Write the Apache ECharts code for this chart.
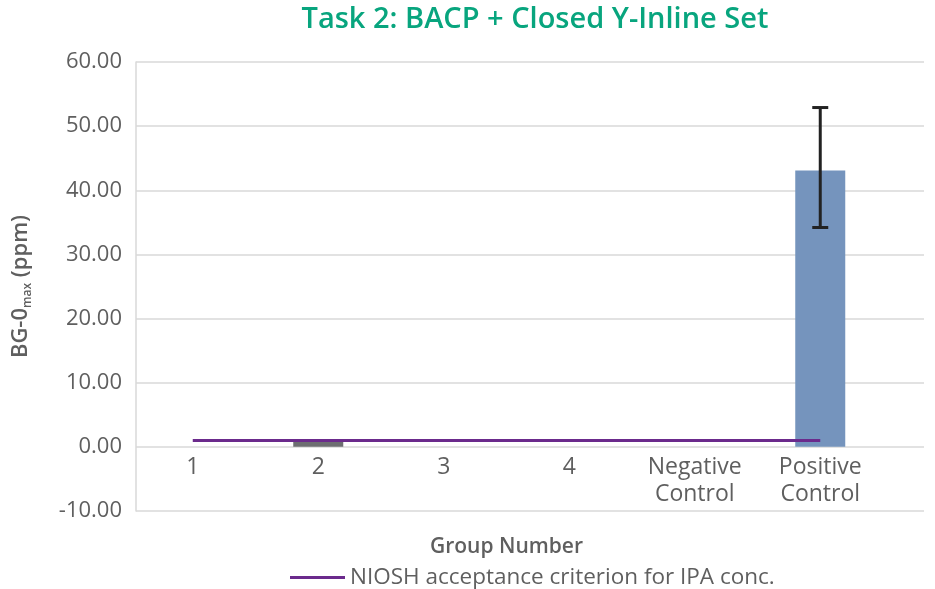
<!DOCTYPE html>
<html><head><meta charset="utf-8">
<script src="https://cdn.jsdelivr.net/npm/echarts@6/dist/echarts.min.js"></script>
<style>html,body{margin:0;padding:0;background:#fff}#c{width:935px;height:589px}</style>
</head><body><div id="c"></div>
<script>
const categories = ['1', '2', '3', '4', 'Negative\nControl', 'Positive\nControl'];
const bgValues = [0, 0.9, 0, 0, 0, 43.1];
const errLow = [null, null, null, null, null, 34.2];
const errHigh = [null, null, null, null, null, 52.9];
const nioshValues = [1, 1, 1, 1, 1, 1];
const yTicks = { min: -10, max: 60, interval: 10 };

const barColors = ['#6d6e71', '#6d6e71', '#6d6e71', '#6d6e71', '#6d6e71', '#7594bd'];
const FONT = 'Open Sans';
const TXT = '#5f5f5f';

const errData = [];
errLow.forEach((lo, i) => { if (lo !== null) errData.push([i, lo, errHigh[i]]); });

// grid 0 spans the full value range (-10..60); grid 1 holds the marks and spans 0..60,
// so its bottom edge is the zero line where the category labels sit.
const TOP = 62, FULL_H = 449;
const pxPerUnit = FULL_H / (yTicks.max - yTicks.min);
const markH = pxPerUnit * yTicks.max;

const chart = echarts.init(document.getElementById('c'), null, { renderer: 'canvas' });
chart.setOption({
  animation: false,
  title: {
    text: 'Task 2: BACP + Closed Y-Inline Set',
    left: 530, top: 0, textAlign: 'center',
    textStyle: { color: '#08a57e', fontFamily: FONT, fontSize: 29, fontWeight: 600 }
  },
  legend: {
    data: ['NIOSH acceptance criterion for IPA conc.'],
    left: 285, top: 561,
    icon: 'rect', itemWidth: 55, itemHeight: 3, itemGap: 10,
    textStyle: { color: TXT, fontFamily: FONT, fontSize: 22.5 }
  },
  grid: [
    { left: 136, right: 11, top: TOP, height: FULL_H, outerBoundsMode: 'none' },
    { left: 130, width: 753, top: TOP, height: markH, outerBoundsMode: 'none' }
  ],
  xAxis: [
    { gridIndex: 0, type: 'value', min: 0, max: 1, show: false },
    {
      gridIndex: 1, type: 'category', data: categories,
      axisLine: { show: false }, axisTick: { show: false },
      axisLabel: { color: TXT, fontFamily: FONT, fontSize: 23, lineHeight: 27, margin: 7 },
      name: 'Group Number', nameLocation: 'middle', nameGap: 90,
      nameTextStyle: { color: TXT, fontFamily: FONT, fontSize: 21, fontWeight: 600 }
    }
  ],
  yAxis: [
    {
      gridIndex: 0, type: 'value', min: yTicks.min, max: yTicks.max, interval: yTicks.interval,
      axisLine: { show: true, lineStyle: { color: '#d9d9d9', width: 1.5 } },
      axisTick: { show: false },
      splitLine: { lineStyle: { color: '#d9d9d9', width: 1.5 } },
      axisLabel: { color: TXT, fontFamily: FONT, fontSize: 22, margin: 14, formatter: v => v.toFixed(2) },
      name: '{a|BG-0}{b|max}{a| (ppm)}', nameLocation: 'middle', nameRotate: 90, nameGap: 102,
      nameTextStyle: {
        rich: {
          a: { color: TXT, fontFamily: FONT, fontSize: 22, fontWeight: 600 },
          b: { color: TXT, fontFamily: FONT, fontSize: 12, fontWeight: 600, verticalAlign: 'bottom', padding: [14, 0, 0, 0] }
        }
      }
    },
    { gridIndex: 1, type: 'value', min: 0, max: yTicks.max, interval: yTicks.interval, show: false }
  ],
  series: [
    {
      type: 'bar', xAxisIndex: 1, yAxisIndex: 1, barWidth: 50,
      data: bgValues.map((v, i) => ({ value: v, itemStyle: { color: barColors[i] } })),
      z: 2
    },
    {
      name: 'NIOSH acceptance criterion for IPA conc.',
      type: 'line', xAxisIndex: 1, yAxisIndex: 1, data: nioshValues,
      showSymbol: false, symbol: 'none',
      lineStyle: { color: '#6b2a8c', width: 3 }, itemStyle: { color: '#6b2a8c' }, z: 3
    },
    {
      type: 'custom', xAxisIndex: 1, yAxisIndex: 1, data: errData, z: 4,
      renderItem: (params, api) => {
        const x = api.value(0);
        const lo = api.coord([x, api.value(1)]);
        const hi = api.coord([x, api.value(2)]);
        const cap = 8;
        const st = { stroke: '#222222', lineWidth: 3 };
        return {
          type: 'group', children: [
            { type: 'line', shape: { x1: lo[0], y1: lo[1], x2: hi[0], y2: hi[1] }, style: st },
            { type: 'line', shape: { x1: lo[0] - cap, y1: lo[1], x2: lo[0] + cap, y2: lo[1] }, style: st },
            { type: 'line', shape: { x1: hi[0] - cap, y1: hi[1], x2: hi[0] + cap, y2: hi[1] }, style: st }
          ]
        };
      }
    }
  ]
});
</script></body></html>
